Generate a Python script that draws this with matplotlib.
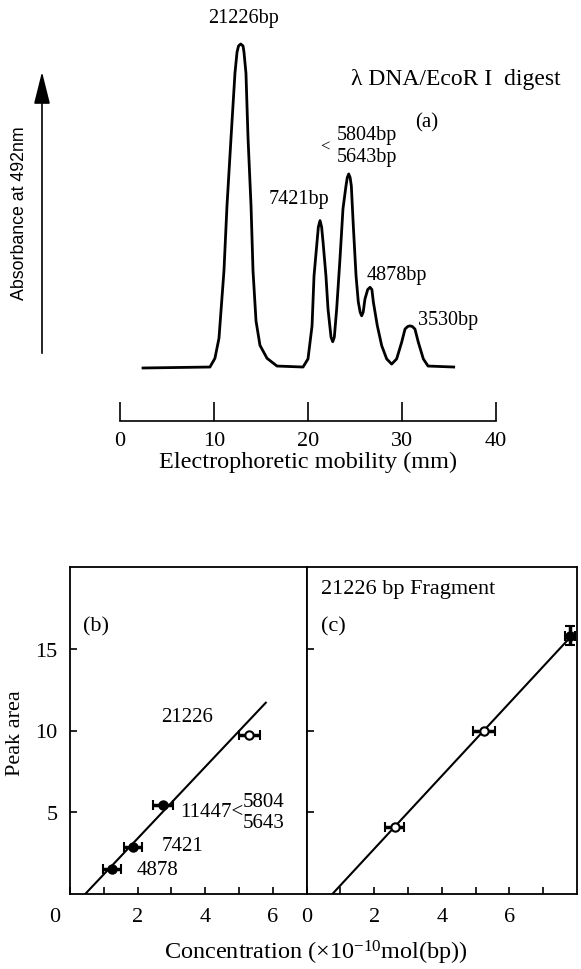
import numpy as np
import matplotlib.pyplot as plt
from matplotlib.transforms import ScaledTranslation

plt.rcParams['font.family'] = ['Liberation Serif', 'DejaVu Serif']
plt.rcParams['mathtext.fontset'] = 'custom'
plt.rcParams['mathtext.rm'] = 'Liberation Serif'
plt.rcParams['mathtext.it'] = 'Liberation Serif:italic'

# (a) densitometer trace
mobility_mm = [2.45, 9.57, 10.1, 10.53, 11.06, 11.38, 11.81, 12.23, 12.45, 12.61, 12.84,
               13.09, 13.19, 13.40, 13.62, 13.94, 14.15, 14.47, 14.89, 15.64, 16.7,
               19.47, 20.0, 20.43, 20.64, 20.96, 21.1, 21.28, 21.45, 21.6, 21.91, 22.13,
               22.45, 22.63, 22.8, 23.05, 23.4, 23.72, 24.04, 24.18, 24.33, 24.48, 24.61,
               24.82, 25.11, 25.35, 25.55, 25.71, 25.87, 26.06, 26.35, 26.6, 26.8, 26.95,
               27.37, 27.84, 28.37, 28.9, 29.43, 29.97, 30.32, 30.6, 30.85, 31.1, 31.38,
               31.73, 32.27, 32.77, 35.5]
absorbance = [0.0, 0.003, 0.03, 0.092, 0.30, 0.50, 0.71, 0.91, 0.975, 0.994, 1.0,
              0.994, 0.975, 0.91, 0.71, 0.50, 0.30, 0.145, 0.07, 0.03, 0.006,
              0.003, 0.028, 0.13, 0.284, 0.389, 0.435, 0.455, 0.435, 0.389, 0.284, 0.182,
              0.095, 0.081, 0.095, 0.182, 0.336, 0.491, 0.562, 0.588, 0.599, 0.588, 0.562,
              0.439, 0.285, 0.204, 0.172, 0.161, 0.172, 0.213, 0.242, 0.249, 0.242, 0.204,
              0.131, 0.069, 0.028, 0.012, 0.028, 0.08, 0.12, 0.128, 0.13, 0.128, 0.12,
              0.08, 0.028, 0.006, 0.003]

# (b) peak area vs concentration for each fragment
b_conc = [1.24, 1.86, 2.75, 5.3]
b_area = [1.53, 2.9, 5.47, 9.74]
b_xerr = [0.27, 0.27, 0.3, 0.31]
b_fit_x = [0.45, 5.79]
b_fit_y = [0.0, 11.7]

# (c) 21226 bp fragment
c_conc = [2.6, 5.24, 7.79]
c_area = [4.12, 9.96, 15.8]
c_xerr = [0.27, 0.32, 0.15]
c_yerr = [0.0, 0.0, 0.6]
c_fit_x = [0.76, 7.8]
c_fit_y = [0.0, 15.7]

W, H = 581, 970
fig = plt.figure(figsize=(W / 100, H / 100), dpi=100)

def fr(x, y):
    return x / W, 1 - y / H

# ---- panel (a)
ax = fig.add_axes([120 / W, 1 - 422 / H, 376 / W, 412 / H])
ax.plot(mobility_mm, absorbance, color='black', lw=2, solid_joinstyle='round')
ax.set_xlim(0, 40)
ax.set_ylim(-0.1636, 1.108)
for s in ['top', 'left', 'right']:
    ax.spines[s].set_visible(False)
ax.spines['bottom'].set_linewidth(1.2)
ax.set_yticks([])
ax.set_xticks([0, 10, 20, 30, 40])
ax.tick_params(axis='x', direction='in', length=13.5, width=1.2, pad=7, labelsize=16)
ax.set_xlabel('Electrophoretic mobility (mm)', fontsize=17.5, labelpad=1)

ax.text(13.09, 1.083, '21226bp', ha='center', va='center', fontsize=14.5)
ax.text(24.6, 0.892, 'λ DNA/EcoR I  digest', ha='left', va='center', fontsize=17)
ax.text(31.4, 0.759, '(a)', ha='left', va='center', fontsize=15)
ax.text(21.8, 0.685, '<', ha='center', va='center', fontsize=12)
ax.text(23.1, 0.722, '5804bp', ha='left', va='center', fontsize=14.5)
ax.text(23.1, 0.654, '5643bp', ha='left', va='center', fontsize=14.5)
ax.text(15.8, 0.522, '7421bp', ha='left', va='center', fontsize=14.5)
ax.text(26.25, 0.29, '4878bp', ha='left', va='center', fontsize=14.5)
ax.text(31.75, 0.151, '3530bp', ha='left', va='center', fontsize=14.5)

# y arrow + label
ax.annotate('', xy=fr(42, 70), xytext=fr(42, 357), xycoords='figure fraction',
            textcoords='figure fraction',
            arrowprops=dict(arrowstyle='-|>,head_length=1.0,head_width=0.25',
                            mutation_scale=20, color='black', lw=1.2))
fig.text(*fr(20, 213), 'Absorbance at 492nm', rotation=90, ha='center', va='center',
         fontsize=12.8, family=['Liberation Sans', 'DejaVu Sans'])

# ---- panels (b) and (c)
axb = fig.add_axes([70 / W, 1 - 895 / H, 236.7 / W, 327 / H])
axc = fig.add_axes([306.7 / W, 1 - 895 / H, 270.3 / W, 327 / H])

ekw = dict(ecolor='black', elinewidth=2.5, capsize=3.5, capthick=1.5, ms=6, mec='black',
           mew=1.5, lw=0)
axb.plot(b_fit_x, b_fit_y, color='black', lw=1.5)
axb.errorbar(b_conc[:3], b_area[:3], xerr=b_xerr[:3], fmt='o', mfc='black', **ekw)
axb.errorbar(b_conc[3:], b_area[3:], xerr=b_xerr[3:], fmt='o', mfc='white', **ekw)

axc.plot(c_fit_x, c_fit_y, color='black', lw=1.5)
axc.errorbar(c_conc[:2], c_area[:2], xerr=c_xerr[:2], fmt='o', mfc='white', **ekw)
axc.errorbar(c_conc[2:], c_area[2:], xerr=c_xerr[2:], yerr=c_yerr[2:], fmt='o',
             mfc='black', clip_on=False, **ekw)

axb.set_xlim(0, 7)
axc.set_xlim(0, 8)
for a in (axb, axc):
    a.set_ylim(0, 20)
    for s in a.spines.values():
        s.set_linewidth(1.3)
    a.tick_params(direction='in', length=5, width=1.2, labelsize=16, pad=9,
                  right=False, top=False)

axb.set_xticks([0, 1, 2, 3, 4, 5, 6])
axb.set_xticklabels(['0', '', '2', '', '4', '', '6'])
axc.set_xticks([0, 1, 2, 3, 4, 5, 6, 7])
axc.set_xticklabels(['0', '', '2', '', '4', '', '6', ''])
axb.set_yticks([5, 10, 15])
axc.set_yticks([5, 10, 15])
axc.set_yticklabels([])
lab0 = axb.get_xticklabels()[0]
lab0.set_transform(lab0.get_transform() + ScaledTranslation(-0.15, 0, fig.dpi_scale_trans))

axb.text(0.39, 16.4, '(b)', ha='left', va='center', fontsize=16)
axb.text(2.69, 10.84, '21226', ha='left', va='center', fontsize=15)
axb.text(3.25, 5.02, '11447<', ha='left', va='center', fontsize=15)
axb.text(5.1, 5.65, '5804', ha='left', va='center', fontsize=15)
axb.text(5.1, 4.35, '5643', ha='left', va='center', fontsize=15)
axb.text(2.71, 2.96, '7421', ha='left', va='center', fontsize=15)
axb.text(1.97, 1.49, '4878', ha='left', va='center', fontsize=15)

axc.text(0.41, 18.68, '21226 bp Fragment', ha='left', va='center', fontsize=16)
axc.text(0.41, 16.4, '(c)', ha='left', va='center', fontsize=16)

fig.text(*fr(15, 733), 'Peak area', rotation=90, ha='center', va='center', fontsize=16)
fig.text(*fr(316, 953), 'Concentration (×10$^{-10}$mol(bp))', ha='center', va='center',
         fontsize=17.5)

fig.savefig('out.png', dpi=100)
